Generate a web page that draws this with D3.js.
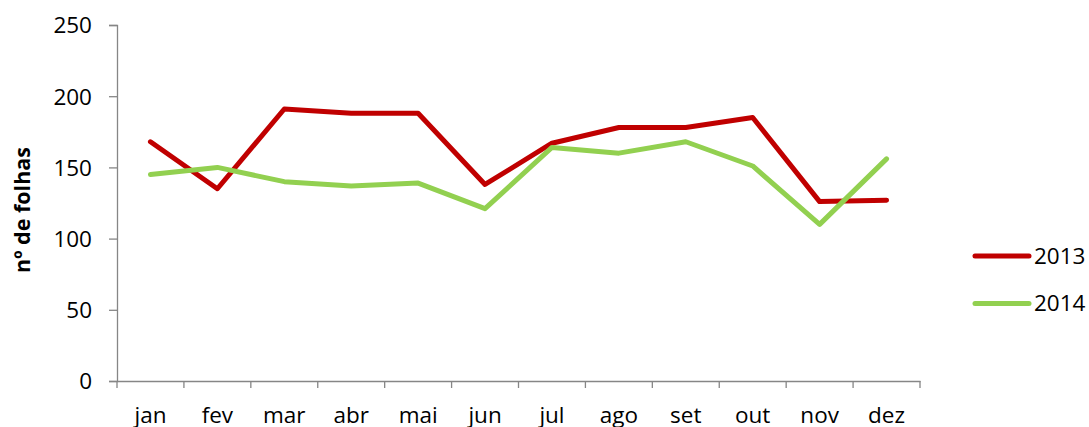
<!DOCTYPE html>
<html>
<head>
<meta charset="utf-8">
<script src="https://cdn.jsdelivr.net/npm/d3@7"></script>
<style>
html,body{margin:0;padding:0;background:#fff;overflow:hidden;}
svg{display:block;}
text{font-family:"Open Sans",sans-serif;fill:#000;}
</style>
</head>
<body>
<svg id="chart" width="1089" height="427"></svg>
<script>
const months = ["jan","fev","mar","abr","mai","jun","jul","ago","set","out","nov","dez"];
const seriesNames = ["2013","2014"];
const values2013 = [168,135,191,188,188,138,167,178,178,185,126,127];
const values2014 = [145,150,140,137,139,121,164,160,168,151,110,156];
const yTicks = [0,50,100,150,200,250];
const colors = ["#C00000","#92D050"];
const yTitle = "nº de folhas";

const series = [
  {name: seriesNames[0], values: values2013, color: colors[0]},
  {name: seriesNames[1], values: values2014, color: colors[1]}
];

const svg = d3.select("#chart");
const mLeft = 117, mRight = 920, mTop = 25, mBottom = 381;
const fs = 22.5;

const x = d3.scaleBand().domain(months).range([mLeft, mRight]);
const y = d3.scaleLinear().domain([0, 250]).range([mBottom, mTop]);

// Y axis
const yAxis = svg.append("g").attr("transform", `translate(${mLeft},0)`)
  .call(d3.axisLeft(y).tickValues(yTicks).tickSize(8).tickPadding(17));
yAxis.select(".domain").attr("stroke", "#868686").attr("stroke-width", 1.3);
yAxis.selectAll(".tick line").attr("stroke", "#868686").attr("stroke-width", 1.3);
yAxis.selectAll("text").attr("font-size", fs).attr("font-family", "Open Sans").attr("fill","#000").attr("dy","0.35em");

// X axis
const xAxis = svg.append("g").attr("transform", `translate(0,${mBottom})`)
  .call(d3.axisBottom(x).tickSize(0).tickPadding(0));
xAxis.select(".domain").attr("stroke", "#868686").attr("stroke-width", 1.3);
xAxis.selectAll(".tick text").attr("font-size", fs).attr("font-family", "Open Sans").attr("fill","#000")
  .attr("y", 42).attr("dy", 0);
// Category boundary ticks
const bounds = months.map(m => x(m)).concat([x(months[months.length-1]) + x.bandwidth()]);
svg.append("g").selectAll("line").data(bounds).join("line")
  .attr("x1", d => d).attr("x2", d => d)
  .attr("y1", mBottom).attr("y2", mBottom + 7)
  .attr("stroke", "#868686").attr("stroke-width", 1.3);

// Y title
svg.append("text")
  .attr("transform", `translate(30,210) rotate(-90)`)
  .attr("text-anchor", "middle")
  .attr("font-size", 21.5).attr("font-weight", "bold")
  .text(yTitle);

// Lines
const line = d3.line()
  .x((d, i) => x(months[i]) + x.bandwidth()/2)
  .y(d => y(d));

svg.append("g").selectAll("path").data(series).join("path")
  .attr("d", d => line(d.values))
  .attr("fill", "none")
  .attr("stroke", d => d.color)
  .attr("stroke-width", 5)
  .attr("stroke-linejoin", "round")
  .attr("stroke-linecap", "round");

// Legend
const legend = svg.append("g").selectAll("g").data(series).join("g")
  .attr("transform", (d, i) => `translate(975,${256 + i*47.5})`);
legend.append("line").attr("x1", 0).attr("x2", 54).attr("y1", 0).attr("y2", 0)
  .attr("stroke", d => d.color).attr("stroke-width", 5).attr("stroke-linecap", "round");
legend.append("text").attr("x", 59).attr("y", 0).attr("dy", "0.35em")
  .attr("font-size", fs).text(d => d.name);
</script>
</body>
</html>
